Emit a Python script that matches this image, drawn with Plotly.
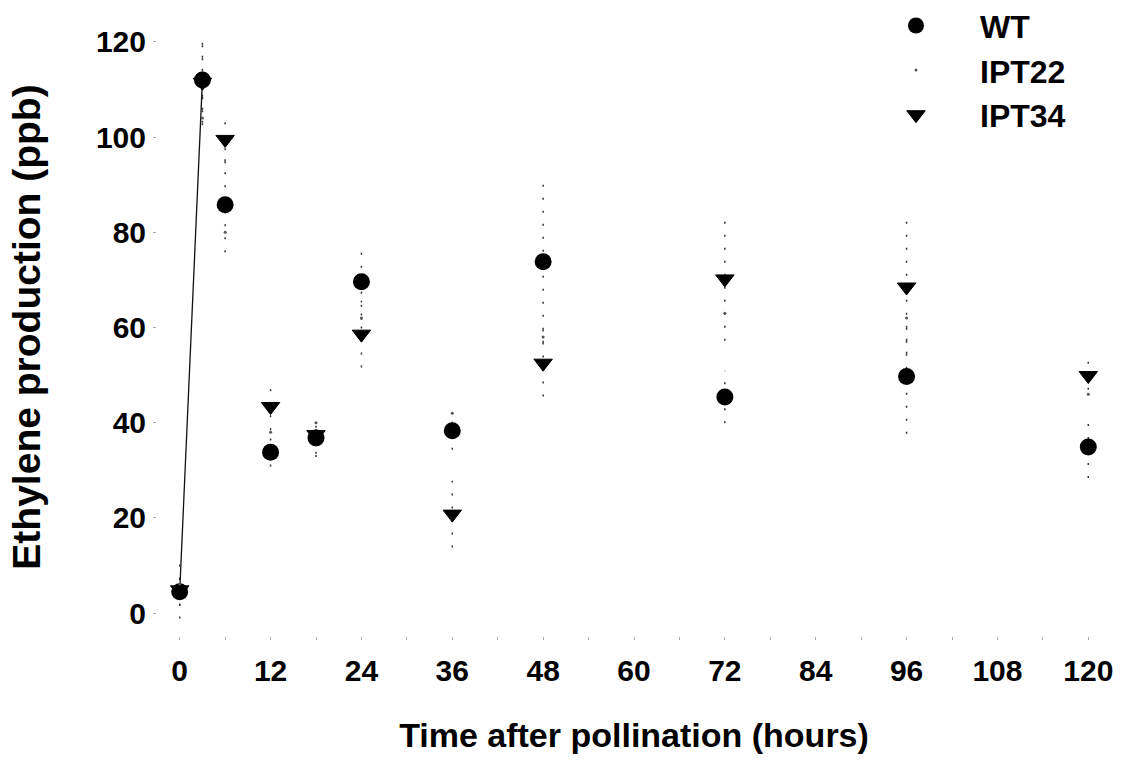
import plotly.graph_objects as go

# ---- data ----
hours = [0, 3, 6, 12, 18, 24, 36, 48, 72, 96, 120]
wt = [4.5, 112.0, 85.8, 33.8, 36.8, 69.6, 38.3, 73.8, 45.4, 49.7, 34.9]
wt_err = [3, 9, 10, 3, 4, 8, 4, 17, 5.5, 12, 6.5]
ipt22 = [6, 104, 80, 38, 40, 62, 42, 58, 63, 62, 46]
ipt34 = [4.9, 111.5, 99.5, 43.4, 37.5, 58.6, 20.8, 52.5, 70.2, 68.5, 49.9]
ipt34_err = [6, 9, 5, 5, 4, 7, 7, 7, 13, 14, 3]
x_tick_vals = [0, 12, 24, 36, 48, 60, 72, 84, 96, 108, 120]
y_tick_vals = [0, 20, 40, 60, 80, 100, 120]

FONT = "Liberation Sans, Arial, Helvetica, sans-serif"


def err_segments(xs, ys, es):
    ex, ey = [], []
    for x, y, e in zip(xs, ys, es):
        ex += [x, x, None]
        ey += [y - e, y + e, None]
    return ex, ey


fig = go.Figure()

# faint, speckled error bars (scan remnants)
for ys, es in [(wt, wt_err), (ipt34, ipt34_err)]:
    ex, ey = err_segments(hours, ys, es)
    fig.add_trace(go.Scatter(
        x=ex, y=ey, mode="lines", showlegend=False, hoverinfo="skip",
        line=dict(color="#333333", width=1.5, dash="2px,11px"),
    ))

# surviving connecting segment between the first two WT points
fig.add_trace(go.Scatter(
    x=hours[:2], y=wt[:2], mode="lines", showlegend=False, hoverinfo="skip",
    line=dict(color="#111111", width=1.3),
))

fig.add_trace(go.Scatter(
    x=hours, y=wt, mode="markers", name="WT", legendgroup="a",
    marker=dict(symbol="circle", size=17, color="black"),
))
fig.add_trace(go.Scatter(
    x=hours, y=ipt22, mode="markers", name="IPT22", legendgroup="b",
    marker=dict(symbol="circle", size=3, color="#555555"),
))
fig.add_trace(go.Scatter(
    x=hours, y=ipt34, mode="markers", name="IPT34", legendgroup="c",
    marker=dict(symbol="triangle-down", size=16, color="black",
                line=dict(color="black", width=1)),
))

fig.update_layout(
    width=1130, height=763,
    margin=dict(l=157, r=19, t=18, b=127, autoexpand=False),
    paper_bgcolor="white", plot_bgcolor="white",
    font=dict(family=FONT, color="black", weight="bold"),
    showlegend=True,
    legend=dict(
        x=0.7285, y=1.032, xanchor="left", yanchor="top",
        font=dict(family=FONT, size=32, color="black", weight="bold"),
        bgcolor="rgba(0,0,0,0)", traceorder="grouped", tracegroupgap=0,
        itemwidth=118,
    ),
)

fig.update_xaxes(
    range=[-3, 123], tickmode="array", tickvals=x_tick_vals,
    showgrid=False, zeroline=False, showline=False,
    ticks="outside", ticklen=3, tickwidth=1, tickcolor="#aaaaaa",
    minor=dict(dtick=6, ticks="outside", ticklen=3, tickcolor="#aaaaaa", showgrid=False),
    tickfont=dict(family=FONT, size=30, color="black", weight="bold"),
    ticklabelstandoff=5,
    title=dict(text="Time after pollination (hours)",
               font=dict(family=FONT, size=34, color="black", weight="bold"),
               standoff=37),
)
fig.update_yaxes(
    range=[-4.8, 125], tickmode="array", tickvals=y_tick_vals,
    showgrid=False, zeroline=False, showline=False,
    ticks="outside", ticklen=3, tickwidth=1, tickcolor="#aaaaaa",
    tickfont=dict(family=FONT, size=30, color="black", weight="bold"),
    ticklabelstandoff=1,
    title=dict(text="Ethylene production (ppb)",
               font=dict(family=FONT, size=39, color="black", weight="bold"),
               standoff=43),
)

fig.write_html("out.html")
